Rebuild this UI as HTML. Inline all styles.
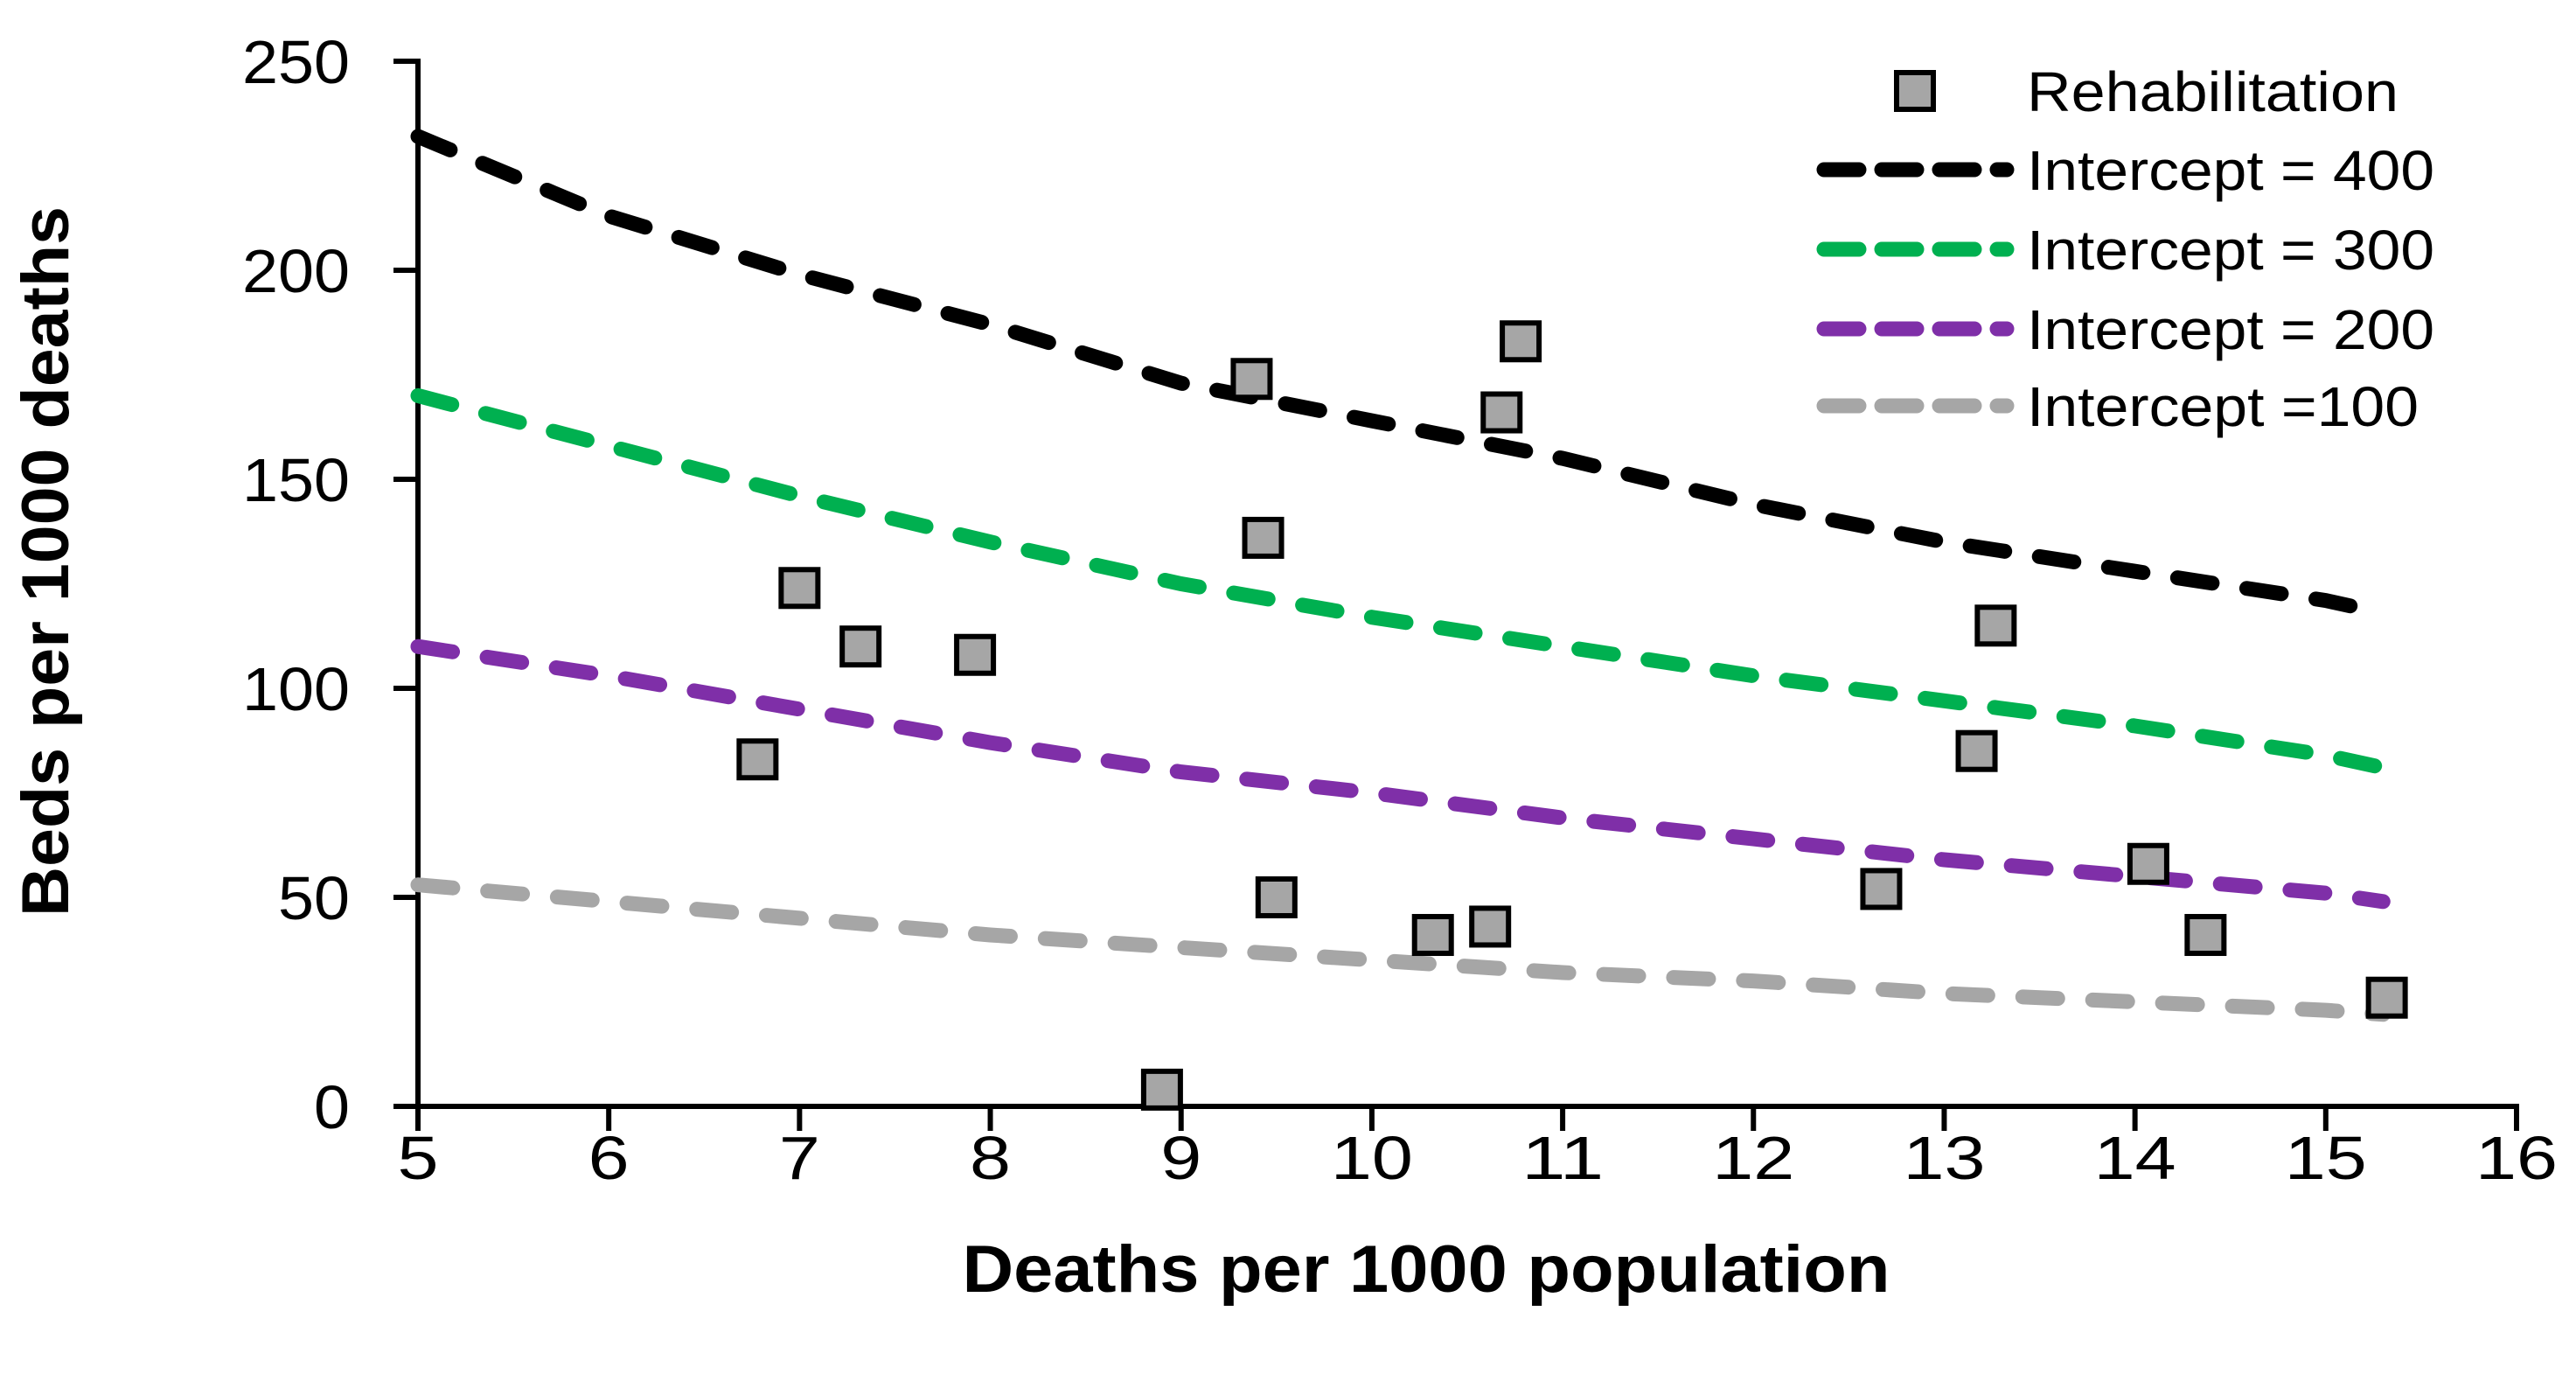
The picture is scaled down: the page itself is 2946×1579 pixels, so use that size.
<!DOCTYPE html>
<html><head><meta charset="utf-8"><style>html,body{margin:0;padding:0;background:#fff}svg{display:block}</style></head>
<body>
<svg id="chart" width="2946" height="1579" viewBox="0 0 2946 1579" xmlns="http://www.w3.org/2000/svg" font-family="'Liberation Sans', sans-serif">
<rect width="2946" height="1579" fill="#fff"/>
<g id="axes"></g>
<g id="lines"></g>
<g id="points"></g>
<g id="legend"></g>
<text x="1631" y="1477" text-anchor="middle" font-weight="bold" font-size="76" textLength="1061" lengthAdjust="spacingAndGlyphs">Deaths per 1000 population</text>
<text transform="translate(78,642) rotate(-90)" text-anchor="middle" font-weight="bold" font-size="76" textLength="812" lengthAdjust="spacingAndGlyphs">Beds per 1000 deaths</text>
</svg>
<script>
const xTicks = [5,6,7,8,9,10,11,12,13,14,15,16];
const yTicks = [0,50,100,150,200,250];
const ptX = [6.78,7.0,7.32,7.92,8.9,9.37,9.43,9.5,10.32,10.62,10.68,10.78,12.67,13.17,13.27,14.07,14.37,15.32];
const ptY = [83,124,110,108,4,174,136,50,41,43,166,183,52,85,115,58,41,26];
const curveX = [5,6,7,8,9,10,11,12,13,14,15,15.3];
const line400 = [232,213,199,187,173,164,155,144,135,128,121,118];
const line300 = [170,158,146,135,125,117,110,103,97,91,84,81];
const line200 = [110,103,95,87,80,75,69,64,59,55,51,49];
const line100 = [53,49,45,41,38,35,32,30,27,25,23,22];
const seriesNames = ["Intercept = 400","Intercept = 300","Intercept = 200","Intercept =100"];
const seriesColors = ["#000000","#00b050","#7f2fa8","#a6a6a6"];
const seriesData = [line400,line300,line200,line100];

const NS = "http://www.w3.org/2000/svg";
const X0=478, X1=2878, Y0=1265, Y1=70;
function sx(v){return X0+(v-5)/(16-5)*(X1-X0);}
function sy(v){return Y0-(v-0)/(250-0)*(Y0-Y1);}
function mk(tag, attrs, parent){const e=document.createElementNS(NS,tag);for(const k in attrs)e.setAttribute(k,attrs[k]);parent.appendChild(e);return e;}

const axes=document.getElementById('axes');
let a=mk('line',{x1:X0,y1:Y0,x2:X1+3,y2:Y0,stroke:'#000','stroke-width':6},axes);


a=mk('line',{x1:X0,y1:Y0+3,x2:X0,y2:Y1-3,stroke:'#000','stroke-width':6},axes);


xTicks.forEach(t=>{
  const tk=mk('line',{x1:sx(t),y1:Y0,x2:sx(t),y2:Y0+28,stroke:'#000','stroke-width':6},axes);
  
  
  const s=String(t);
  const tx=mk('text',{x:sx(t),y:1348,'text-anchor':'middle','font-size':70,textLength:s.length*47,lengthAdjust:'spacingAndGlyphs'},axes);
  tx.textContent=s;
  
  
});
yTicks.forEach(t=>{
  const tk=mk('line',{x1:X0-28,y1:sy(t),x2:X0,y2:sy(t),stroke:'#000','stroke-width':6},axes);
  
  
  const s=String(t);
  const tx=mk('text',{x:400,y:sy(t)+25,'text-anchor':'end','font-size':70,textLength:s.length*41,lengthAdjust:'spacingAndGlyphs'},axes);
  tx.textContent=s;
  
  
});

const lines=document.getElementById('lines');
seriesData.forEach((d,i)=>{
  const p=d.map((v,j)=>(j?'L':'M')+sx(curveX[j]).toFixed(1)+','+sy(v).toFixed(1)).join(' ');
  const el=mk('path',{d:p,fill:'none',stroke:seriesColors[i],'stroke-width':17,'stroke-dasharray':'40 40','stroke-linecap':'round'},lines);
  
  
});

const pts=document.getElementById('points');
ptX.forEach((x,i)=>{
  const el=mk('rect',{x:sx(x)-21,y:sy(ptY[i])-21,width:42,height:42,fill:'#a6a6a6',stroke:'#000','stroke-width':6},pts);
  
  
});

const lg=document.getElementById('legend');
const rowsY=[104,194,285,376,464];
let m=mk('rect',{x:2190-21,y:rowsY[0]-21,width:42,height:42,fill:'#a6a6a6',stroke:'#000','stroke-width':6},lg);


let t=mk('text',{x:2318,y:rowsY[0]+23,'font-size':64,textLength:425,lengthAdjust:'spacingAndGlyphs'},lg);
t.textContent='Rehabilitation';


const lw=[466,466,466,448];
seriesNames.forEach((n,i)=>{
  const y=rowsY[i+1];
  const l=mk('line',{x1:2086,y1:y,x2:2295,y2:y,stroke:seriesColors[i],'stroke-width':17,'stroke-dasharray':'40 26','stroke-linecap':'round'},lg);
  
  
  const tx=mk('text',{x:2318,y:y+23,'font-size':64,textLength:lw[i],lengthAdjust:'spacingAndGlyphs'},lg);
  tx.textContent=n;
  
  
});
</script>
</body></html>
